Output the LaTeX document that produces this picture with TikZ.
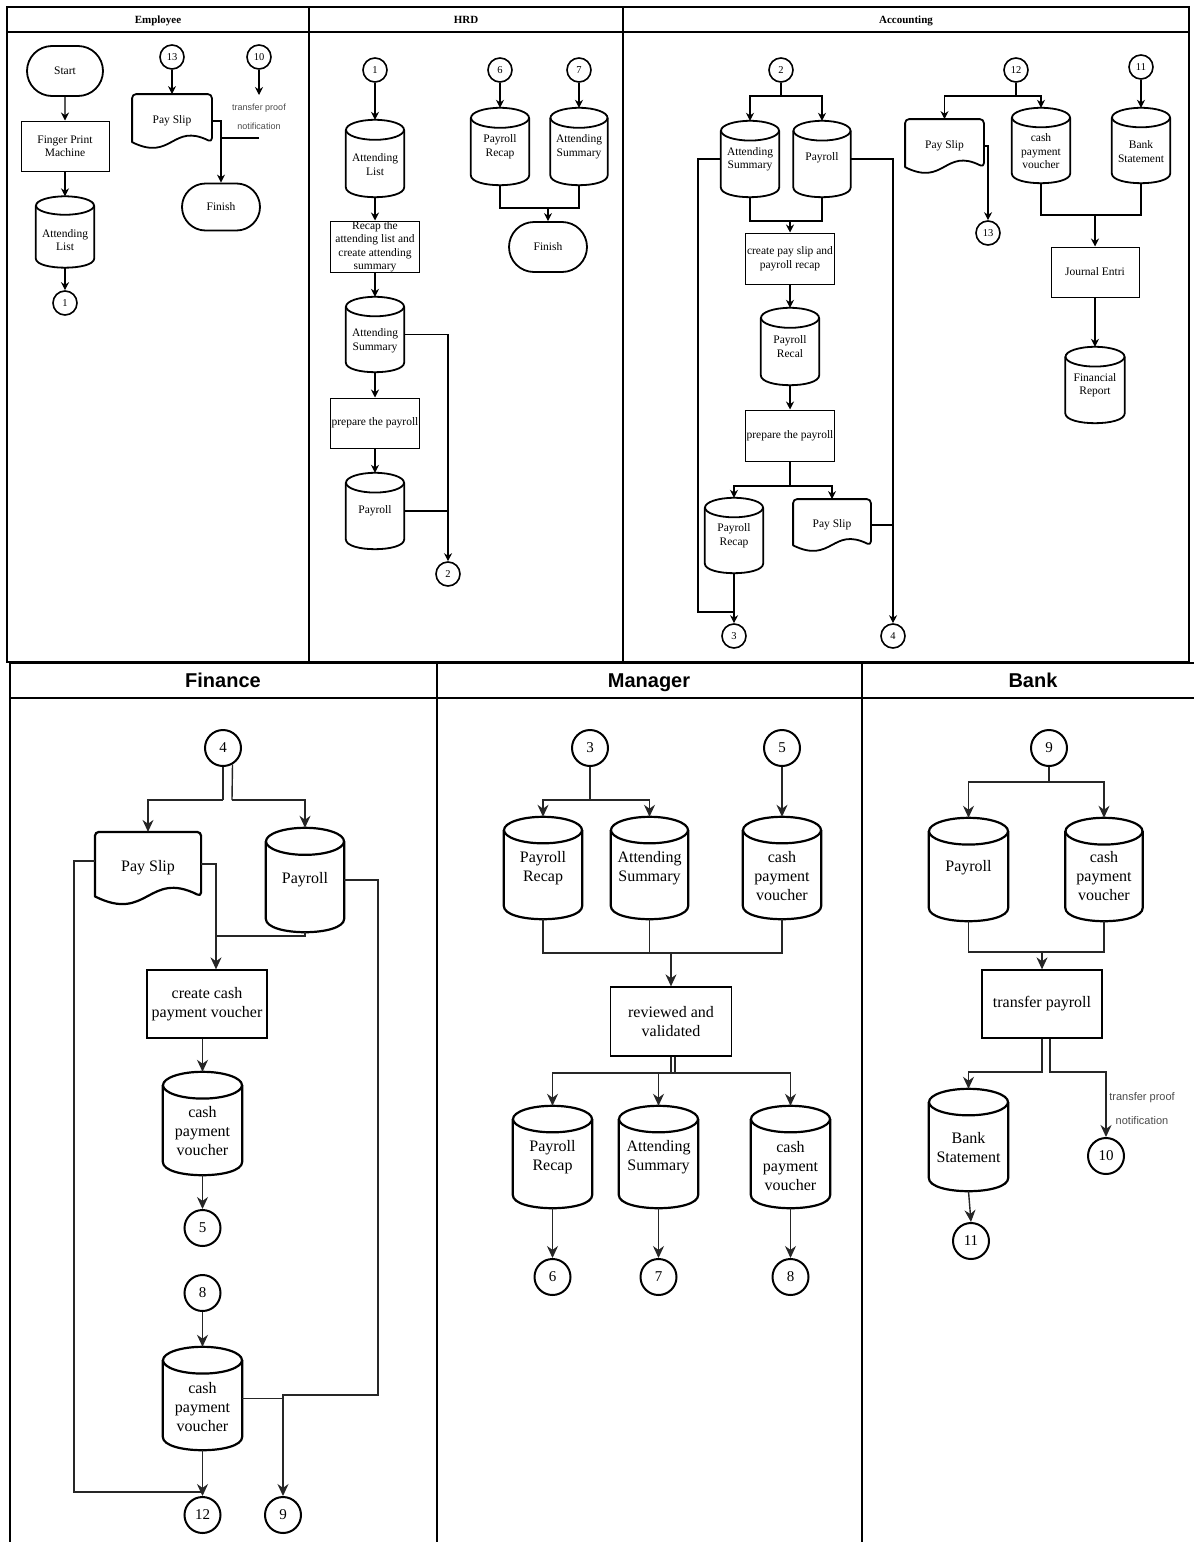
\documentclass[tikz,border=0pt]{standalone}
\usepackage{fontspec}
\setmainfont{Liberation Serif}
\newfontfamily\sansf{Liberation Sans}
\usetikzlibrary{arrows.meta,calc,shapes.misc,shapes.geometric}

\tikzset{
  T/.style={font=\fontsize{11.5}{13.5}\selectfont, line width=1.8pt},
  B/.style={font=\fontsize{16}{19}\selectfont, line width=2.2pt},
  shp/.style={draw=black, line join=round},
  dbbox/.style={rectangle, inner sep=0pt, align=center},
  conT/.style={circle, draw, line width=1.6pt, minimum size=24pt, inner sep=0pt, font=\fontsize{10.5}{12}\selectfont},
  conB/.style={circle, draw, line width=2pt, minimum size=36pt, inner sep=0pt, font=\fontsize{15}{17}\selectfont},
  procT/.style={rectangle, draw, line width=1pt, align=center, inner sep=0pt, font=\fontsize{11.5}{13.5}\selectfont},
  procB/.style={rectangle, draw, line width=1.3pt, align=center, inner sep=0pt, font=\fontsize{16}{19}\selectfont},
  termT/.style={rounded rectangle, draw, line width=1.8pt, inner sep=0pt, font=\fontsize{11.5}{13.5}\selectfont},
  lT/.style={line width=1.1pt},
  aT/.style={lT, -{Stealth[length=8pt,width=8pt]}},
  lB/.style={line width=1.4pt, draw=black!85},
  aB/.style={lB, -{Stealth[length=12pt,width=11pt]}},
  hdT/.style={font=\fontsize{11}{13}\selectfont\bfseries, anchor=base},
  hdB/.style={font=\sansf\fontsize{20}{24}\selectfont\bfseries, anchor=base},
  lbl/.style={align=center, text=black!70},
}

% database cylinder: [style]{name}{x}{y}{w}{h}{text dy}{text}
\newcommand{\DB}[8][T]{%
  \node[dbbox,minimum width=#5pt,minimum height=#6pt] (#2) at (#3,#4) {};
  \node[dbbox,#1] (#2-t) at ($(#2.center)+(0,#7)$) {#8};
  \pgfmathsetmacro\dbe{0.13*#6}%
  \draw[shp,#1] ($(#2.north west)+(0,\dbe)$) -- ($(#2.south west)+(0,-\dbe)$)
     .. controls ($(#2.south west)+(0,{0.333*\dbe})$) and ($(#2.south east)+(0,{0.333*\dbe})$) .. ($(#2.south east)+(0,-\dbe)$)
     -- ($(#2.north east)+(0,\dbe)$);
  \draw[shp,#1] ($(#2.north)+(0,\dbe)$) ellipse [x radius=#5pt/2, y radius={\dbe*1pt}];
}
% document shape: [style]{name}{x}{y}{w}{h}{text}
\newcommand{\DOC}[7][T]{%
  \node[dbbox,#1,minimum width=#5pt,minimum height=#6pt] (#2) at (#3,#4) {#7};
  \pgfmathsetmacro\ddd{0.11*#6}\pgfmathsetmacro\ddk{3.46*\ddd}%
  \draw[shp,#1] ($(#2.south west)+(0,-\ddd)$) [rounded corners=4pt] -- (#2.north west) -- (#2.north east) -- ($(#2.south east)+(0,-\ddd)$) [sharp corners]
     .. controls ($(#2.south)+(0,{-\ddd-\ddk})$) and ($(#2.south)+(0,{-\ddd+\ddk})$) .. ($(#2.south west)+(0,-\ddd)$) -- (#2.west);
}

\begin{document}
\begin{tikzpicture}[x=1pt,y=-1pt]
\useasboundingbox (0,0) rectangle (1194,1542);
\fill[white] (0,0) rectangle (1194,1542);

% ---------- frames ----------
\draw[line width=1.2pt] (7,7) rectangle (1189,662);
\draw[line width=1.2pt] (7,32) -- (1189,32);
\draw[line width=1.2pt] (309,7) -- (309,662);
\draw[line width=2pt] (623,7) -- (623,662);
\draw[line width=2pt] (1189,7) -- (1189,662);
\draw[line width=2pt] (10,663) -- (1194,663);
\draw[line width=1.2pt] (10,698) -- (1194,698);
\draw[line width=2.5pt] (10,663) -- (10,1542);
\draw[line width=1.2pt] (437,663) -- (437,1542);
\draw[line width=1.2pt] (862,663) -- (862,1542);

\node[hdT] (hE) at (158,23.5) {Employee};
\node[hdT] (hH) at (466,23.5) {HRD};
\node[hdT] (hA) at (906,23.5) {Accounting};
\node[hdB] (hF) at (223,687) {Finance};
\node[hdB] (hM) at (649,687) {Manager};
\node[hdB] (hB) at (1033,687) {Bank};

% ---------- Employee ----------
\node[termT, minimum width=76pt, minimum height=50pt] (start) at (65,71) {Start};
\node[procT, minimum width=88pt, minimum height=50pt] (fpm) at (65,146) {Finger Print\\Machine};
\DB{alE}{65}{232}{58}{71}{8}{Attending\\List}
\node[conT] (c1a) at (65,303) {1};
\node[conT] (c13a) at (172,57) {13};
\DOC{psE}{172}{121}{78}{52}{Pay Slip}
\node[conT] (c10a) at (259,57) {10};
\coordinate (t10) at (259,95);
\node[lbl, font=\sansf\fontsize{9}{19}\selectfont] (lblE) at (259,117) {transfer proof\\notification};
\coordinate (j10) at (259,138);
\node[termT, minimum width=78pt, minimum height=47pt] (finE) at (221,207) {Finish};

\draw[aT] (start) -- (fpm);
\draw[aT] (fpm) -- (alE);
\draw[aT] (alE) -- (c1a);
\draw[aT] (c13a) -- (psE);
\draw[aT] (c10a) -- (t10);
\draw[aT] (psE.east) -| (finE.north);
\draw[lT] (j10) -- (j10 -| finE.north);

% ---------- HRD ----------
\node[conT] (c1b) at (375,70) {1};
\DB{alH}{375}{158.5}{58}{77}{6}{Attending\\List}
\node[procT, minimum width=89pt, minimum height=51pt] (recap) at (375,246.5) {Recap the\\attending list and\\create attending\\summary};
\DB{asH}{375}{334.5}{58}{75}{6}{Attending\\Summary}
\node[procT, minimum width=89pt, minimum height=50pt] (prepH) at (375,423) {prepare the payroll};
\DB{payH}{375}{511}{58}{76}{0}{Payroll}
\node[conT] (c2a) at (448,574) {2};
\node[conT] (c6a) at (500,70) {6};
\node[conT] (c7a) at (579,70) {7};
\DB{prH}{500}{146.5}{58}{77}{0}{Payroll\\Recap}
\DB{asH2}{579}{146.5}{57}{77}{0}{Attending\\Summary}
\coordinate (mH) at (548,208);
\node[termT, minimum width=78pt, minimum height=50pt] (finH) at (548,247) {Finish};

\draw[aT] (c1b) -- (alH);
\draw[aT] (alH) -- (recap);
\draw[aT] (recap) -- (asH);
\draw[aT] (asH) -- (prepH);
\draw[aT] (prepH) -- (payH);
\draw[aT] (asH.east) -| (c2a.north);
\draw[lT] (payH.east) -- (payH.east -| c2a.north);
\draw[aT] (c6a) -- (prH);
\draw[aT] (c7a) -- (asH2);
\draw[lT] (prH.south) |- (mH);
\draw[lT] (asH2.south) |- (mH);
\draw[aT] (mH) -- (finH.north);

% ---------- Accounting ----------
\node[conT] (c2b) at (781,70) {2};
\coordinate (s2) at (781,96);
\DB{asA}{750}{159}{58}{76}{0}{Attending\\Summary}
\DB{payA}{822}{159}{57}{76}{-1}{Payroll}
\coordinate (m2) at (790,221);
\node[procT, minimum width=89pt, minimum height=51pt] (create) at (790,258.5) {create pay slip and\\payroll recap};
\DB{recal}{790}{346.5}{58}{77}{0}{Payroll\\Recal}
\node[procT, minimum width=89pt, minimum height=51pt] (prepA) at (790,435.5) {prepare the payroll};
\coordinate (s3) at (790,486);
\DB{prA}{734}{535.5}{58}{75}{0}{Payroll\\Recap}
\DOC{psA}{832}{525}{76}{50}{Pay Slip}
\node[conT] (c3a) at (734,636) {3};
\node[conT] (c4a) at (893,636) {4};
\coordinate (l3) at (698,612);

\draw[lT] (c2b) -- (s2);
\draw[aT] (s2) -| (asA.north);
\draw[aT] (s2) -| (payA.north);
\draw[lT] (asA.south) |- (m2);
\draw[lT] (payA.south) |- (m2);
\draw[aT] (m2) -- (create.north);
\draw[aT] (create) -- (recal);
\draw[aT] (recal) -- (prepA);
\draw[lT] (prepA.south) -- (s3);
\draw[aT] (s3) -| (prA.north);
\draw[aT] (s3) -| (psA.north);
\draw[aT] (prA) -- (c3a);
\draw[lT] (asA.west) -| (l3) -- (l3 -| c3a);
\draw[aT] (payA.east) -| (c4a.north);
\draw[lT] (psA.east) -- (psA.east -| c4a);

\node[conT] (c12a) at (1016,70) {12};
\coordinate (s12) at (1016,96);
\DOC{psA2}{944.5}{146}{77}{52}{Pay Slip}
\DB{cvA}{1041}{145.5}{58}{75}{6}{cash\\payment\\voucher}
\node[conT] (c11a) at (1141,67) {11};
\DB{bsA}{1141}{145.5}{58}{75}{6}{Bank\\Statement}
\node[conT] (c13b) at (988,233) {13};
\coordinate (mJ) at (1095,215);
\node[procT, minimum width=88pt, minimum height=50pt] (je) at (1095,272) {Journal Entri};
\DB{frA}{1095}{385}{59}{76}{0}{Financial\\Report}

\draw[lT] (c12a) -- (s12);
\draw[aT] (s12) -| (psA2.north);
\draw[aT] (s12) -| (cvA.north);
\draw[aT] (c11a) -- (bsA);
\draw[aT] (psA2.east) -| (c13b.north);
\draw[lT] (cvA.south) |- (mJ);
\draw[lT] (bsA.south) |- (mJ);
\draw[aT] (mJ) -- (je.north);
\draw[aT] (je) -- (frA);

% ---------- Finance ----------
\node[conB] (c4b) at (223,748) {4};
\coordinate (s4l) at (223,800);
\coordinate (s4r) at (232,800);
\DOC[B]{psF}{148}{868}{104}{70}{Pay Slip}
\DB[B]{payF}{305}{880}{78}{104}{0}{Payroll}
\coordinate (mF) at (216,936);
\node[procB, minimum width=120pt, minimum height=68pt] (createF) at (207,1004) {create cash\\payment voucher};
\DB[B]{cvF1}{202.5}{1123.5}{79}{103}{8}{cash\\payment\\voucher}
\node[conB] (c5b) at (202.5,1228) {5};
\node[conB] (c8b) at (202.5,1293) {8};
\DB[B]{cvF2}{202.5}{1398.5}{79}{103}{9}{cash\\payment\\voucher}
\node[conB] (c12b) at (202.5,1515) {12};
\node[conB] (c9b) at (283,1515) {9};
\coordinate (l12) at (74,1492);
\coordinate (l9) at (378,1395);

\draw[lB] (c4b.south) -- (s4l);
\draw[aB] (s4l) -| (psF.north);
\draw[lB] (c4b.-60) -- (s4r);
\draw[aB] (s4r) -| (payF.north);
\draw[aB] ([yshift=4pt]psF.east) -| (mF |- createF.north);
\draw[lB] (payF.south) |- (mF);
\draw[aB] (createF.south -| cvF1.north) -- (cvF1.north);
\draw[aB] (cvF1) -- (c5b);
\draw[aB] (c8b) -- (cvF2);
\draw[aB] (cvF2) -- (c12b);
\draw[lB] ([yshift=7pt]psF.west) -| (l12) -- (l12 -| c12b);
\draw[aB] (payF.east) -| (l9) -| (c9b.north);
\draw[lB] (cvF2.east) -- (cvF2.east -| c9b);

% ---------- Manager ----------
\node[conB] (c3b) at (590,748) {3};
\coordinate (s3m) at (590,800);
\DB[B]{prM}{543}{868}{78}{102}{0}{Payroll\\Recap}
\DB[B]{asM}{649.5}{868}{77}{102}{0}{Attending\\Summary}
\node[conB] (c5c) at (782,748) {5};
\DB[B]{cvM}{782}{868}{78}{102}{8}{cash\\payment\\voucher}
\coordinate (mM) at (671,953);
\node[procB, minimum width=121pt, minimum height=69pt] (rv) at (671,1021.5) {reviewed and\\validated};
\coordinate (rvb) at ([xshift=4pt]rv.south);
\coordinate (sR) at (673,1073);
\DB[B]{prM2}{552.5}{1157}{79}{102}{0}{Payroll\\Recap}
\DB[B]{asM2}{658.5}{1157}{79}{102}{0}{Attending\\Summary}
\DB[B]{cvM2}{790.5}{1157}{79}{102}{9}{cash\\payment\\voucher}
\node[conB] (c6b) at (552.5,1277) {6};
\node[conB] (c7b) at (658.5,1277) {7};
\node[conB] (c8c) at (790.5,1277) {8};

\draw[lB] (c3b) -- (s3m);
\draw[aB] (s3m) -| (prM.north);
\draw[aB] (s3m) -| (asM.north);
\draw[aB] (c5c) -- (cvM);
\draw[lB] (prM.south) |- (mM);
\draw[lB] (cvM.south) |- (mM);
\draw[lB] (asM.south) -- (asM.south |- mM);
\draw[aB] (mM) -- (rv.north);
\draw[lB] (rv.south) -- (rv.south |- sR);
\draw[lB] (rvb) -- (rvb |- sR);
\draw[aB] (sR) -| (prM2.north);
\draw[aB] (sR) -| (cvM2.north);
\draw[aB] (asM2.north |- sR) -- (asM2.north);
\draw[aB] (prM2) -- (c6b);
\draw[aB] (asM2) -- (c7b);
\draw[aB] (cvM2) -- (c8c);

% ---------- Bank ----------
\node[conB] (c9c) at (1049,748) {9};
\coordinate (s9) at (1049,782);
\DB[B]{payB}{968.5}{869.5}{79}{103}{-2}{Payroll}
\DB[B]{cvB}{1104}{869.5}{77}{103}{7}{cash\\payment\\voucher}
\coordinate (mB) at (1042,952);
\node[procB, minimum width=120pt, minimum height=68pt] (tp) at (1042,1004) {transfer payroll};
\coordinate (tpb) at ([xshift=8pt]tp.south);
\coordinate (sB) at (1046,1072);
\DB[B]{bsB}{968.5}{1140}{79}{102}{8}{Bank\\Statement}
\node[conB] (c10b) at (1106,1156) {10};
\node[conB] (c11b) at (971,1241) {11};
\node[lbl, font=\sansf\fontsize{11}{24}\selectfont] (lblB) at (1142,1109) {transfer proof\\notification};

\draw[lB] (c9c) -- (s9);
\draw[aB] (s9) -| (payB.north);
\draw[aB] (s9) -| (cvB.north);
\draw[lB] (payB.south) |- (mB);
\draw[lB] (cvB.south) |- (mB);
\draw[aB] (mB) -- (tp.north);
\draw[aB] (tp.south) -- (tp.south |- sB) -| (bsB.north);
\draw[aB] (tpb) -- (tpb |- sB) -| (c10b.north);
\draw[aB] (bsB.south) -- (c11b.north);
\end{tikzpicture}
\end{document}
